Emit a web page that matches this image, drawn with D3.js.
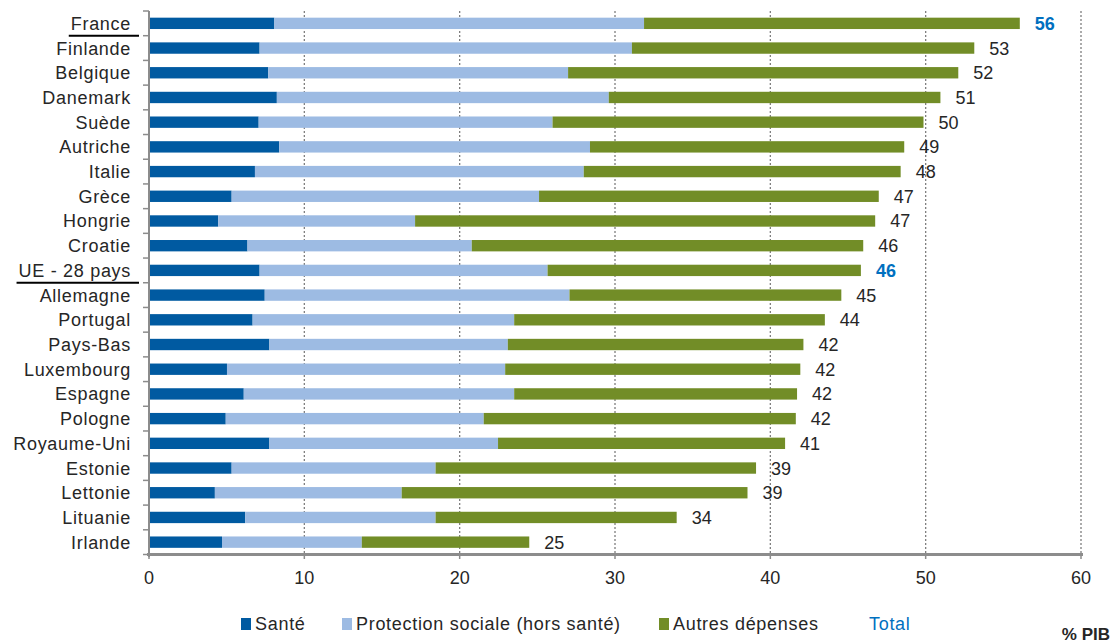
<!DOCTYPE html>
<html>
<head>
<meta charset="utf-8">
<script src="https://cdn.jsdelivr.net/npm/d3@7"></script>
<style>
  html, body { margin: 0; padding: 0; background: #fff; }
  svg { display: block; font-family: "Liberation Sans", Arial, sans-serif; }
</style>
</head>
<body>
<svg id="chart" width="1117" height="644"></svg>
<script>
// ---- Data ----
const categories = ["France", "Finlande", "Belgique", "Danemark", "Suède", "Autriche", "Italie", "Grèce",
  "Hongrie", "Croatie", "UE - 28 pays", "Allemagne", "Portugal", "Pays-Bas", "Luxembourg", "Espagne",
  "Pologne", "Royaume-Uni", "Estonie", "Lettonie", "Lituanie", "Irlande"];
const sante = [8.07, 7.12, 7.68, 8.23, 7.06, 8.38, 6.82, 5.32, 4.46, 6.34, 7.12, 7.45, 6.67, 7.75, 5.02,
  6.10, 4.94, 7.75, 5.32, 4.24, 6.19, 4.70];
const protectionSociale = [23.80, 23.97, 19.30, 21.37, 18.92, 20.01, 21.17, 19.79, 12.67, 14.44, 18.54,
  19.62, 16.84, 15.35, 17.91, 17.41, 16.61, 14.72, 13.13, 12.03, 12.26, 9.00];
const autresDepenses = [24.19, 22.04, 25.12, 21.35, 23.88, 20.23, 20.40, 21.87, 29.62, 25.20, 20.17,
  17.50, 20.00, 19.03, 19.00, 18.21, 20.09, 18.48, 20.63, 22.26, 15.52, 10.78];
const totalLabels = [56, 53, 52, 51, 50, 49, 48, 47, 47, 46, 46, 45, 44, 42, 42, 42, 42, 41, 39, 39, 34, 25];
const highlighted = ["France", "UE - 28 pays"];
const xTicks = [0, 10, 20, 30, 40, 50, 60];
const seriesNames = ["Santé", "Protection sociale (hors santé)", "Autres dépenses"];
const seriesColors = ["#005aa1", "#9dbbe3", "#728d27"];
const totalName = "Total";
const unitLabel = "% PIB";

// ---- Setup ----
const svg = d3.select("#chart");
const x = d3.scaleLinear().domain([0, 60]).range([149, 1081]);
const y = d3.scaleBand().domain(categories).range([11, 554.5]).paddingInner(0.54).paddingOuter(0.27);
const step = y.step();

const rows = categories.map((c, i) => ({
  cat: c, s: sante[i], p: protectionSociale[i], a: autresDepenses[i], label: totalLabels[i]
}));
const stack = d3.stack().keys(["s", "p", "a"])(rows);

// gridlines
svg.append("g").selectAll("line").data(xTicks.filter(d => d > 0)).join("line")
  .attr("x1", d => x(d)).attr("x2", d => x(d))
  .attr("y1", 11).attr("y2", 554)
  .attr("stroke", "#7f7f7f").attr("stroke-width", 1.3).attr("stroke-dasharray", "2,2");

// bars
svg.append("g").selectAll("g").data(stack).join("g")
  .attr("fill", (d, i) => seriesColors[i])
  .selectAll("rect").data(d => d).join("rect")
  .attr("x", d => x(d[0]))
  .attr("width", d => x(d[1]) - x(d[0]))
  .attr("y", d => y(d.data.cat))
  .attr("height", y.bandwidth());

// value labels
svg.append("g").selectAll("text").data(rows).join("text")
  .attr("x", d => x(d.s + d.p + d.a) + 15)
  .attr("y", d => y(d.cat) + y.bandwidth() / 2)
  .attr("dy", "0.36em")
  .attr("font-size", 18)
  .attr("font-weight", d => highlighted.includes(d.cat) ? "bold" : "normal")
  .attr("fill", d => highlighted.includes(d.cat) ? "#0070c0" : "#262626")
  .text(d => d.label);

// y axis
const yAxis = svg.append("g");
yAxis.append("line").attr("x1", 149).attr("x2", 149).attr("y1", 11).attr("y2", 557)
  .attr("stroke", "#8c8c8c").attr("stroke-width", 2);
yAxis.selectAll("line.tick").data(d3.range(categories.length + 1)).join("line")
  .attr("class", "tick")
  .attr("x1", 143).attr("x2", 149)
  .attr("y1", i => 11 + i * step).attr("y2", i => 11 + i * step)
  .attr("stroke", "#8c8c8c").attr("stroke-width", 1.5);
const catLabels = yAxis.selectAll("text").data(categories).join("text")
  .attr("x", 131)
  .attr("y", d => y(d) + y.bandwidth() / 2)
  .attr("dy", "0.36em")
  .attr("text-anchor", "end")
  .attr("font-size", 18)
  .attr("letter-spacing", "0.7px")
  .attr("fill", "#262626")
  .text(d => d);

// underlines for highlighted categories
catLabels.filter(d => highlighted.includes(d)).each(function(d) {
  const bb = this.getBBox();
  const yy = y(d) + y.bandwidth() / 2 + step / 2;
  yAxis.append("line").attr("x1", bb.x - 2).attr("x2", 139)
    .attr("y1", yy).attr("y2", yy)
    .attr("stroke", "#000").attr("stroke-width", 2);
});

// x axis
const xAxisG = svg.append("g");
xAxisG.append("line").attr("x1", 147).attr("x2", 1083).attr("y1", 554.5).attr("y2", 554.5)
  .attr("stroke", "#8c8c8c").attr("stroke-width", 3);
xAxisG.selectAll("line.tick").data(xTicks).join("line")
  .attr("class", "tick")
  .attr("x1", d => x(d)).attr("x2", d => x(d))
  .attr("y1", 554).attr("y2", 559)
  .attr("stroke", "#8c8c8c").attr("stroke-width", 1.5);
xAxisG.selectAll("text").data(xTicks).join("text")
  .attr("x", d => x(d)).attr("y", 584)
  .attr("text-anchor", "middle")
  .attr("font-size", 18)
  .attr("fill", "#262626")
  .text(d => d);

// legend
const legendX = [241, 342, 659];
const legend = svg.append("g");
seriesNames.forEach((name, i) => {
  legend.append("rect").attr("x", legendX[i]).attr("y", 618).attr("width", 10).attr("height", 12)
    .attr("fill", seriesColors[i]);
  legend.append("text").attr("x", legendX[i] + 14).attr("y", 630)
    .attr("font-size", 18).attr("letter-spacing", "0.7px").attr("fill", "#262626").text(name);
});
legend.append("text").attr("x", 869).attr("y", 630)
  .attr("font-size", 18).attr("letter-spacing", "0.7px").attr("fill", "#0070c0").text(totalName);

svg.append("text").attr("x", 1110).attr("y", 640).attr("text-anchor", "end")
  .attr("font-size", 17).attr("font-weight", "bold").attr("fill", "#262626").text(unitLabel);
</script>
</body>
</html>
